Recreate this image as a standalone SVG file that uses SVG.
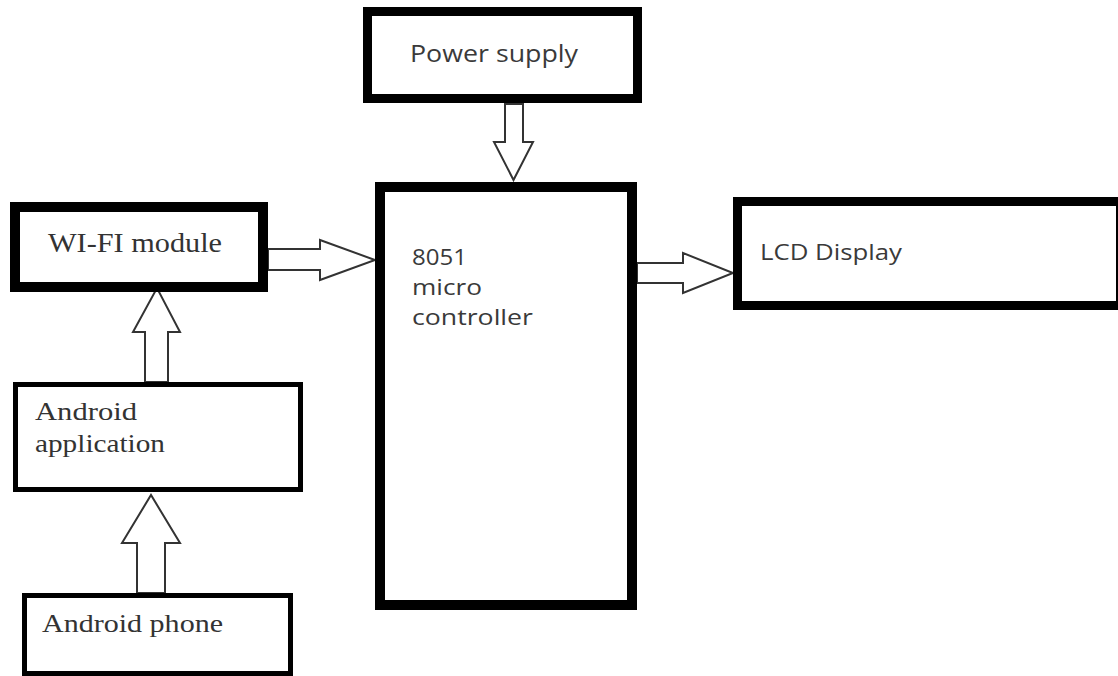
<svg xmlns="http://www.w3.org/2000/svg" width="1118" height="676" viewBox="0 0 1118 676">
<style>
.box{fill:#fff;stroke:#000}
.thick{stroke-width:10}
.mid{stroke-width:9}
.thin{stroke-width:5}
.arr{fill:#fff;stroke:#333;stroke-width:2;stroke-linejoin:miter}
.sans{font-family:"Open Sans","Noto Sans",sans-serif;fill:#3a3a3a}
.serif{font-family:"Liberation Serif","Times New Roman",serif;fill:#333}
</style>
<rect width="1118" height="676" fill="#fff"/>
<g id="connectors">
<polygon class="arr" points="505,104 523,104 523,142 533,142 513.5,180 494,142 505,142"/>
<polygon class="arr" points="268,249 320,249 320,240 375,260 320,280 320,270 268,270"/>
<polygon class="arr" points="637,263 683,263 683,253 733,273 683,293 683,283 637,283"/>
<polygon class="arr" points="145,382 145,332 133,332 157,288 180,332 168,332 168,382"/>
<polygon class="arr" points="137,593 137,543 122,543 151,495 180,543 165,543 165,593"/>
</g>
<g id="power">
<rect class="box mid" x="367.5" y="11.5" width="270" height="87"/>
<text class="sans" x="410" y="62" font-size="24" textLength="168" lengthAdjust="spacingAndGlyphs">Power supply</text>
</g>
<g id="micro">
<rect class="box thick" x="380" y="187" width="252" height="418"/>
<text class="sans" x="412" y="265" font-size="22" textLength="55" lengthAdjust="spacingAndGlyphs">8051</text>
<text class="sans" x="412" y="295" font-size="22" textLength="70" lengthAdjust="spacingAndGlyphs">micro</text>
<text class="sans" x="412" y="325" font-size="22" textLength="121" lengthAdjust="spacingAndGlyphs">controller</text>
</g>
<g id="lcd">
<rect class="box mid" x="737.5" y="201.5" width="400" height="104"/>
<line x1="1117" y1="206" x2="1117" y2="302" stroke="#000" stroke-width="2"/>
<text class="sans" x="760" y="260" font-size="22" textLength="142" lengthAdjust="spacingAndGlyphs">LCD Display</text>
</g>
<g id="wifi">
<rect class="box thick" x="15" y="207" width="248" height="80"/>
<text class="serif" x="48" y="252" font-size="27" textLength="174" lengthAdjust="spacingAndGlyphs">WI-FI module</text>
</g>
<g id="app">
<rect class="box thin" x="15.5" y="384.5" width="285" height="105"/>
<text class="serif" x="35" y="420" font-size="26" textLength="102" lengthAdjust="spacingAndGlyphs">Android</text>
<text class="serif" x="35" y="452" font-size="26" textLength="130" lengthAdjust="spacingAndGlyphs">application</text>
</g>
<g id="phone">
<rect class="box thin" x="24.5" y="595.5" width="266" height="78"/>
<text class="serif" x="42" y="632" font-size="26" textLength="181" lengthAdjust="spacingAndGlyphs">Android phone</text>
</g>
</svg>
